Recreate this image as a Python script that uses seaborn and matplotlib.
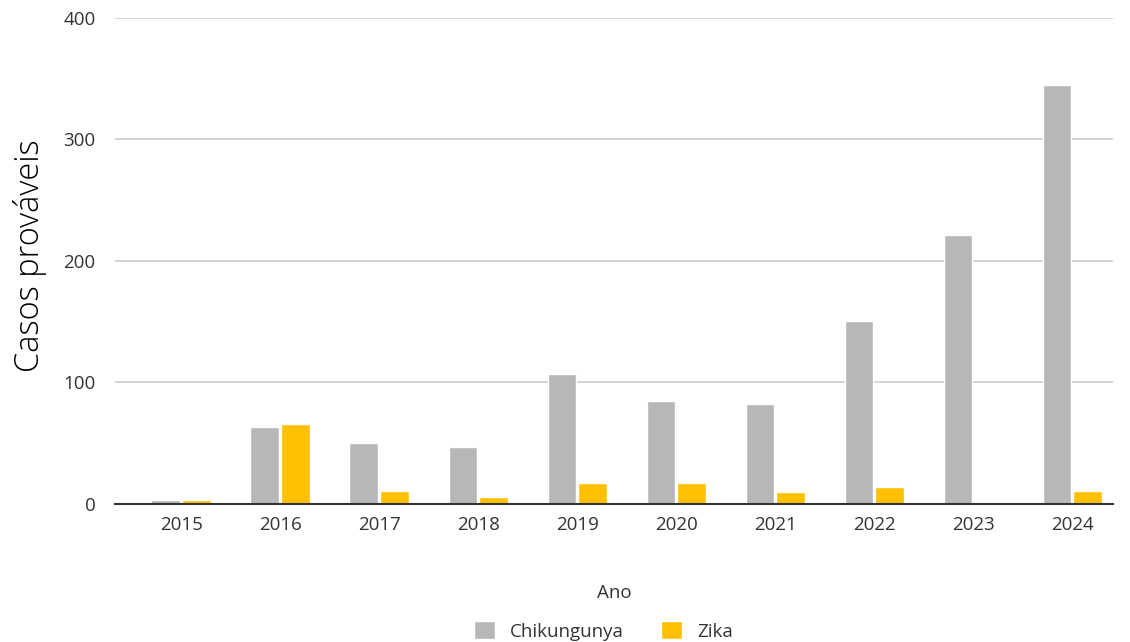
import pandas as pd
import seaborn as sns
import matplotlib.pyplot as plt

# data
anos = ["2015", "2016", "2017", "2018", "2019", "2020", "2021", "2022", "2023", "2024"]
chikungunya = [3, 63, 50, 47, 107, 85, 82, 151, 221, 345]
zika = [3, 66, 11, 6, 17, 17, 10, 14, 0, 11]

df = pd.DataFrame({"Ano": anos * 2,
                   "Casos": chikungunya + zika,
                   "Doença": ["Chikungunya"] * len(anos) + ["Zika"] * len(anos)})

sns.set_style("white")
plt.rcParams["font.family"] = ["Open Sans", "DejaVu Sans"]

fig = plt.figure(figsize=(11.3, 6.42), dpi=100)
ax = fig.add_axes([0.1018, 0.215, 0.883, 0.757])

sns.barplot(data=df, x="Ano", y="Casos", hue="Doença", ax=ax,
            palette={"Chikungunya": "#b7b7b7", "Zika": "#ffc000"},
            width=0.62, gap=0.07, saturation=1, legend=True)

ax.set_ylim(0, 400)
ax.set_yticks([0, 100, 200, 300, 400])
ax.set_xlim(-0.667, 9.41)
ax.yaxis.grid(True, color="#cccccc", linewidth=1.2)
ax.set_axisbelow(True)
for s in ["top", "right", "left"]:
    ax.spines[s].set_visible(False)
ax.spines["bottom"].set_color("#333333")
ax.spines["bottom"].set_linewidth(1.5)
ax.tick_params(axis="both", length=0, labelsize=13.5, colors="#333333", pad=9)
ax.tick_params(axis="y", pad=14)

ax.set_xlabel("Ano", fontsize=13.5, color="#333333")
ax.xaxis.set_label_coords(0.5, -0.165)
ax.set_ylabel("Casos prováveis", fontsize=23.5, color="black", fontweight="light")
ax.yaxis.set_label_coords(-0.068, 0.51)

leg = ax.legend(loc="center", bbox_to_anchor=(0.534, 0.017), bbox_transform=fig.transFigure,
                ncol=2, frameon=False, fontsize=13.5, handlelength=1.1, handleheight=1.1,
                columnspacing=2.0, handletextpad=0.8)
for t in leg.get_texts():
    t.set_color("#333333")

fig.savefig("out.png", dpi=100)
